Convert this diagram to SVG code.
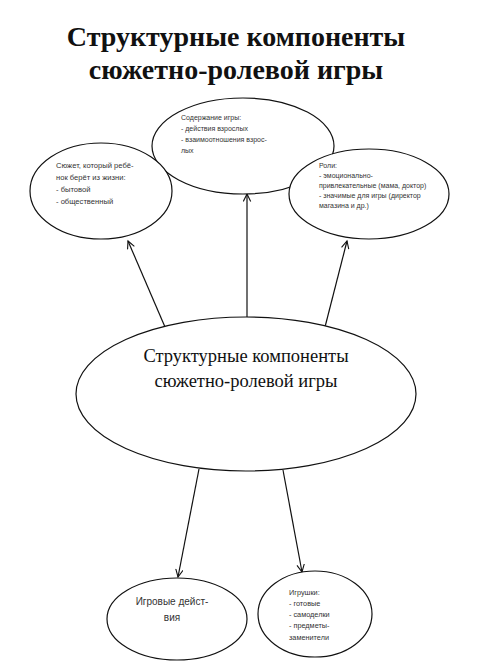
<svg xmlns="http://www.w3.org/2000/svg" width="482" height="668" viewBox="0 0 482 668">
<defs>
<marker id="arr" markerWidth="10" markerHeight="10" refX="8" refY="4" orient="auto" markerUnits="userSpaceOnUse">
<path d="M0.5,0.3 L8,4 L0.5,7.7" fill="none" stroke="#111" stroke-width="1.1"/>
</marker>
<style>
.node ellipse{fill:#fff;stroke:#111;stroke-width:1.2}
.t{font-family:"Liberation Sans","DejaVu Sans",sans-serif;fill:#333}
.s{font-size:7px}
.serif{font-family:"Liberation Serif","DejaVu Serif",serif;fill:#111}
.conn line{stroke:#111;stroke-width:1.2;marker-end:url(#arr)}
</style>
</defs>
<rect width="482" height="668" fill="#fff"/>
<g id="title">
<text class="serif" x="236" y="46" font-size="28" font-weight="bold" text-anchor="middle">Структурные компоненты</text>
<text class="serif" x="236" y="79" font-size="28" font-weight="bold" text-anchor="middle">сюжетно-ролевой игры</text>
</g>
<g class="conn" id="connectors">
<line x1="165" y1="327" x2="128" y2="241"/>
<line x1="247" y1="317" x2="247" y2="194"/>
<line x1="325" y1="327" x2="347" y2="241"/>
<line x1="199" y1="469" x2="178" y2="577"/>
<line x1="283" y1="470" x2="302" y2="572"/>
</g>
<g class="node" id="content">
<ellipse cx="243" cy="146" rx="91" ry="48"/>
<text class="t s" font-size="7.3"><tspan x="181" y="120">Содержание игры:</tspan><tspan x="181" y="131">- действия взрослых</tspan><tspan x="181" y="142">- взаимоотношения взрос-</tspan><tspan x="181" y="153">лых</tspan></text>
</g>
<g class="node" id="plot">
<ellipse cx="101" cy="191" rx="71" ry="48"/>
<text class="t" font-size="7.6"><tspan x="56" y="168">Сюжет, который ребё-</tspan><tspan x="56" y="180">нок берёт из жизни:</tspan><tspan x="56" y="192">- бытовой</tspan><tspan x="56" y="204">- общественный</tspan></text>
</g>
<g class="node" id="roles">
<ellipse cx="369" cy="194" rx="80" ry="45"/>
<text class="t" font-size="7"><tspan x="319" y="168">Роли:</tspan><tspan x="319" y="178">- эмоционально-</tspan><tspan x="319" y="188">привлекательные (мама, доктор)</tspan><tspan x="319" y="198">- значимые для игры (директор</tspan><tspan x="319" y="208">магазина и др.)</tspan></text>
</g>
<g class="node" id="main">
<ellipse cx="246" cy="394" rx="170" ry="77"/>
<text class="serif" font-size="18.5" text-anchor="middle"><tspan x="246" y="362">Структурные компоненты</tspan><tspan x="246" y="387">сюжетно-ролевой игры</tspan></text>
</g>
<g class="node" id="actions">
<ellipse cx="177" cy="619" rx="70" ry="41"/>
<text class="t" font-size="10" text-anchor="middle"><tspan x="172" y="605">Игровые дейст-</tspan><tspan x="172" y="621">вия</tspan></text>
</g>
<g class="node" id="toys">
<ellipse cx="315" cy="614" rx="57" ry="43"/>
<text class="t" font-size="7.3"><tspan x="289" y="595">Игрушки:</tspan><tspan x="289" y="606">- готовые</tspan><tspan x="289" y="617">- самоделки</tspan><tspan x="289" y="628">- предметы-</tspan><tspan x="289" y="640">заменители</tspan></text>
</g>
</svg>
